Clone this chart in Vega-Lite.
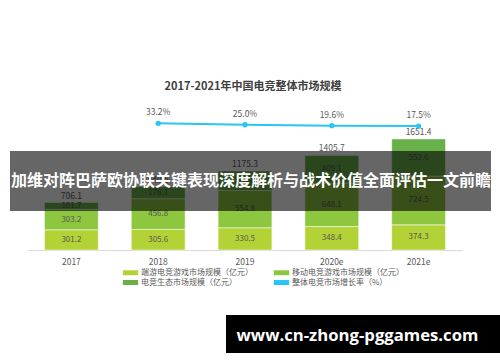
{
  "$schema": "https://vega.github.io/schema/vega-lite/v6.json",
  "width": 434,
  "height": 150,
  "autosize": "none",
  "padding": {"left": 28, "top": 100, "right": 38, "bottom": 112},
  "background": "white",
  "config": {
    "view": {"stroke": null},
    "font": "Noto Sans CJK SC",
    "scale": {"bandPaddingInner": 0.38, "bandPaddingOuter": 0.19}
  },
  "title": {
    "text": "2017-2021年中国电竞整体市场规模",
    "fontSize": 11,
    "fontWeight": "bold",
    "color": "#404040",
    "anchor": "middle",
    "dx": 8,
    "offset": 8,
    "font": "Noto Sans CJK SC"
  },
  "datasets": {
    "segments": [
      {"year": "2017", "seg": "端游电竞游戏市场规模（亿元）", "k": 1, "value": 301.2},
      {"year": "2017", "seg": "移动电竞游戏市场规模（亿元）", "k": 2, "value": 303.2},
      {"year": "2017", "seg": "电竞生态市场规模（亿元）", "k": 3, "value": 101.7},
      {"year": "2018", "seg": "端游电竞游戏市场规模（亿元）", "k": 1, "value": 305.6},
      {"year": "2018", "seg": "移动电竞游戏市场规模（亿元）", "k": 2, "value": 456.8},
      {"year": "2018", "seg": "电竞生态市场规模（亿元）", "k": 3, "value": 178.1},
      {"year": "2019", "seg": "端游电竞游戏市场规模（亿元）", "k": 1, "value": 330.5},
      {"year": "2019", "seg": "移动电竞游戏市场规模（亿元）", "k": 2, "value": 554.8},
      {"year": "2019", "seg": "电竞生态市场规模（亿元）", "k": 3, "value": 290.0},
      {"year": "2020e", "seg": "端游电竞游戏市场规模（亿元）", "k": 1, "value": 348.4},
      {"year": "2020e", "seg": "移动电竞游戏市场规模（亿元）", "k": 2, "value": 648.1},
      {"year": "2020e", "seg": "电竞生态市场规模（亿元）", "k": 3, "value": 409.1},
      {"year": "2021e", "seg": "端游电竞游戏市场规模（亿元）", "k": 1, "value": 374.3},
      {"year": "2021e", "seg": "移动电竞游戏市场规模（亿元）", "k": 2, "value": 724.5},
      {"year": "2021e", "seg": "电竞生态市场规模（亿元）", "k": 3, "value": 552.6}
    ],
    "totals": [
      {"year": "2017", "total": 706.1},
      {"year": "2018", "total": 940.5},
      {"year": "2019", "total": 1175.3},
      {"year": "2020e", "total": 1405.7},
      {"year": "2021e", "total": 1651.4}
    ],
    "growth": [
      {"year": "2018", "rate": 0.332},
      {"year": "2019", "rate": 0.250},
      {"year": "2020e", "rate": 0.196},
      {"year": "2021e", "rate": 0.175}
    ],
    "overlay": [
      {"banner": "加维对阵巴萨欧协联关键表现深度解析与战术价值全面评估一文前瞻", "site": "www.cn-zhong-pggames.com"}
    ]
  },
  "resolve": {"scale": {"x": "independent", "y": "independent"}},
  "layer": [
    {
      "layer": [
        {
          "data": {"name": "segments"},
          "transform": [
            {"stack": "value", "groupby": ["year"], "sort": [{"field": "k", "order": "ascending"}], "as": ["lo", "hi"]}
          ],
          "mark": {"type": "bar", "stroke": "white", "strokeOpacity": 0.5, "strokeWidth": 1},
          "encoding": {
            "x": {
              "field": "year", "type": "nominal",
              "scale": {"domain": ["2017", "2018", "2019", "2020e", "2021e"]},
              "axis": {
                "title": null, "labelAngle": 0, "ticks": false, "domainColor": "#d9d9d9",
                "labelColor": "#595959", "labelFontSize": 8.5, "labelPadding": 7,
                "labelFont": "Noto Sans CJK SC"
              }
            },
            "y": {"field": "lo", "type": "quantitative", "scale": {"domain": [0, 2230], "nice": false}, "axis": null},
            "y2": {"field": "hi"},
            "color": {
              "field": "seg", "type": "nominal",
              "scale": {
                "domain": ["端游电竞游戏市场规模（亿元）", "移动电竞游戏市场规模（亿元）", "电竞生态市场规模（亿元）", "整体电竞市场增长率（%）"],
                "range": ["#b3d236", "#8dc63f", "#68b04a", "#29c5f6"]
              },
              "legend": {
                "title": null,
                "orient": "none",
                "legendX": 97,
                "legendY": 167,
                "direction": "horizontal",
                "columns": 2,
                "columnPadding": 20,
                "rowPadding": 0,
                "labelFontSize": 8,
                "labelColor": "#595959",
                "labelFont": "Noto Sans CJK SC",
                "labelLimit": 200,
                "labelOffset": 5,
                "symbolSize": 121,
                "symbolType": "M-1.4,-0.45H1.4V0.45H-1.4Z",
                "symbolStrokeWidth": 0,
                "encode": {
                  "symbols": {
                    "update": {
                      "shape": {"signal": "datum.value === '整体电竞市场增长率（%）' ? 'M-1.4,0H1.4M-0.3,0A0.3,0.3 0 1 1 0.3,0A0.3,0.3 0 1 1 -0.3,0' : 'M-1.4,-0.45H1.4V0.45H-1.4Z'"},
                      "stroke": {"signal": "datum.value === '整体电竞市场增长率（%）' ? '#29c5f6' : 'transparent'"},
                      "strokeWidth": {"value": 1.5}
                    }
                  }
                }
              }
            }
          }
        },
        {
          "data": {"name": "segments"},
          "transform": [
            {"stack": "value", "groupby": ["year"], "sort": [{"field": "k", "order": "ascending"}], "as": ["lo", "hi"]},
            {"fold": ["lo", "hi"], "as": ["edge", "pos"]},
            {"aggregate": [{"op": "mean", "field": "pos", "as": "mid"}], "groupby": ["year", "k", "value"]}
          ],
          "mark": {"type": "text", "fontSize": 8, "color": "#595959", "baseline": "middle"},
          "encoding": {
            "x": {"field": "year", "type": "nominal"},
            "y": {"field": "mid", "type": "quantitative"},
            "text": {"field": "value", "type": "quantitative", "format": ".1f"}
          }
        },
        {
          "data": {"name": "totals"},
          "mark": {"type": "text", "fontSize": 8.5, "color": "#595959", "baseline": "bottom", "dy": -2},
          "encoding": {
            "x": {"field": "year", "type": "nominal"},
            "y": {"field": "total", "type": "quantitative"},
            "text": {"field": "total", "type": "quantitative", "format": ".1f"}
          }
        }
      ]
    },
    {
      "data": {"name": "growth"},
      "layer": [
        {
          "mark": {"type": "line", "strokeWidth": 2},
          "encoding": {
            "x": {"field": "year", "type": "nominal", "scale": {"domain": ["2017", "2018", "2019", "2020e", "2021e"]}, "axis": null},
            "y": {"field": "rate", "type": "quantitative", "scale": {"domain": [-7.03, 1.69], "nice": false}, "axis": null},
            "color": {"datum": "整体电竞市场增长率（%）"}
          }
        },
        {
          "mark": {"type": "point", "filled": true, "size": 28, "opacity": 1},
          "encoding": {
            "x": {"field": "year", "type": "nominal"},
            "y": {"field": "rate", "type": "quantitative"},
            "color": {"datum": "整体电竞市场增长率（%）"}
          }
        },
        {
          "mark": {"type": "text", "fontSize": 8.5, "color": "#595959", "baseline": "bottom", "dy": -6},
          "encoding": {
            "x": {"field": "year", "type": "nominal"},
            "y": {"field": "rate", "type": "quantitative"},
            "text": {"field": "rate", "type": "quantitative", "format": ".1%"}
          }
        }
      ]
    },
    {
      "data": {"name": "overlay"},
      "layer": [
        {
          "mark": {"type": "rect", "color": "black", "opacity": 0.6},
          "encoding": {
            "x": {"datum": -0.0415, "type": "quantitative", "scale": {"domain": [0, 1], "nice": false}, "axis": null},
            "x2": {"datum": 1.0668},
            "y": {"datum": 0.66, "type": "quantitative", "scale": {"domain": [0, 1], "nice": false}, "axis": null},
            "y2": {"datum": 0.26}
          }
        },
        {
          "mark": {"type": "text", "color": "white", "fontSize": 16, "fontWeight": "bold", "baseline": "middle", "align": "center", "font": "Noto Sans CJK SC"},
          "encoding": {
            "x": {"datum": 0.5138, "type": "quantitative"},
            "y": {"datum": 0.46, "type": "quantitative"},
            "text": {"field": "banner"}
          }
        },
        {
          "mark": {"type": "rect", "color": "black", "opacity": 1},
          "encoding": {
            "x": {"datum": 0.4562, "type": "quantitative"},
            "x2": {"datum": 1.0876},
            "y": {"datum": -0.4333, "type": "quantitative"},
            "y2": {"datum": -0.6867}
          }
        },
        {
          "mark": {"type": "text", "color": "white", "fontSize": 16.7, "fontWeight": "bold", "baseline": "middle", "align": "center", "font": "Open Sans"},
          "encoding": {
            "x": {"datum": 0.7592, "type": "quantitative"},
            "y": {"datum": -0.57, "type": "quantitative"},
            "text": {"field": "site"}
          }
        }
      ]
    }
  ]
}
